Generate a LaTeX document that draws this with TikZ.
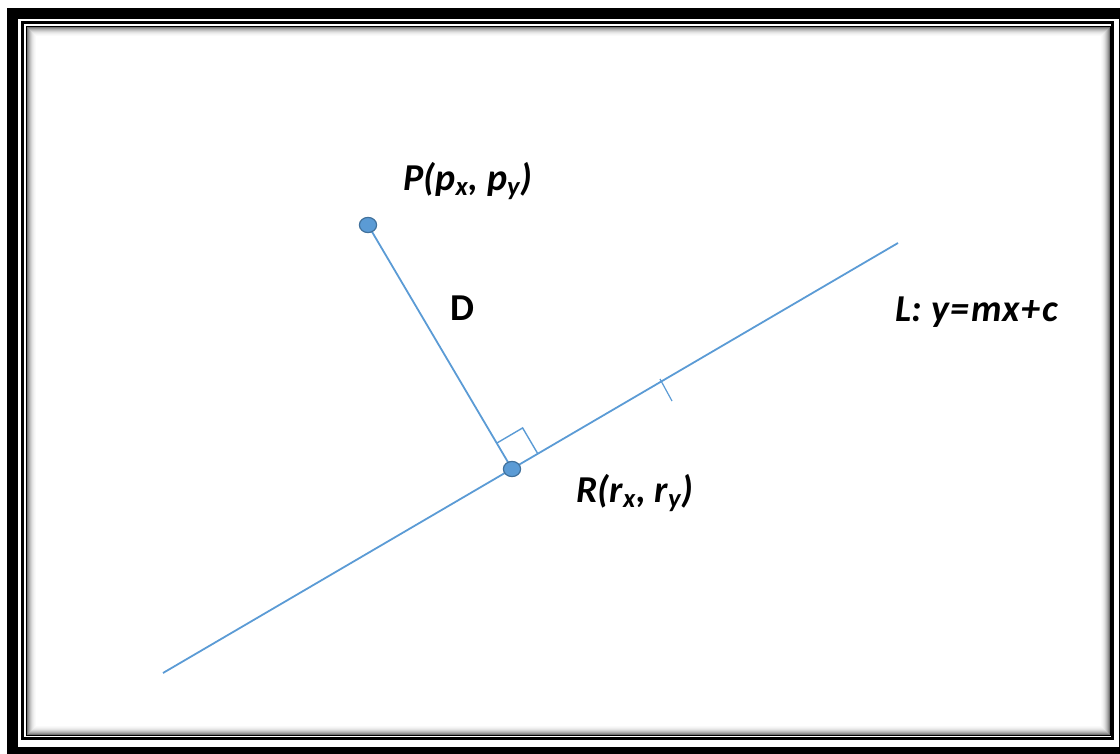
\documentclass[tikz,border=0pt]{standalone}
\usepackage{fontspec}
\setmainfont{Carlito}
\usetikzlibrary{positioning,calc,shapes.geometric}
\definecolor{lineblue}{RGB}{91,155,213}
\definecolor{dotedge}{RGB}{65,113,156}
\begin{document}
\begin{tikzpicture}[x=0.5pt,y=-0.5pt,every node/.style={inner sep=1pt,font=\fontsize{19}{22}\selectfont\bfseries\itshape}]
\tikzstyle{seg}=[draw=lineblue,line width=0.9pt]
\tikzstyle{dot}=[draw=dotedge,fill=lineblue,line width=0.6pt,ellipse,minimum width=8.6pt,minimum height=7.6pt,inner sep=0pt]
\useasboundingbox (0,0) rectangle (1120,754);
\clip (0,0) rectangle (1120,754);
% frame
\draw[line width=5.5pt] (12.5,13.5) rectangle (1124,752);
\draw[line width=1.6pt] (22.5,22.5) rectangle (1112.5,738.5);
\draw[line width=0.6pt] (26.5,26.5) rectangle (1110,735);
\foreach \i/\g in {1/55,2/42,3/32,4/24,5/17,6/11,7/7,8/4,9/2}
  \draw[black!\g,line width=0.5pt] (26.5+\i,26.5+\i) rectangle (1110-\i,735-\i);

\coordinate (P) at (368,225);
\coordinate (R) at (512,469);
\coordinate (l1) at (163,673);
\coordinate (l2) at (898,243);
\draw[seg] (l1) -- (l2);
\draw[seg] (P) -- (R);
\draw[seg,line width=0.7pt] ($(R)!0.106!(P)$) -- ($(R)!0.106!(P)+(25.9,-15.2)$) -- ($(R)!0.067!(l2)$);
\draw[seg,line width=0.6pt] (660,379) -- (672,401);

\node[dot] (pdot) at (P) {};
\node[dot] (rdot) at (R) {};

\node (plabel) at (468,181) {P(p\textsubscript{x}, p\textsubscript{y})};
\node[font=\fontsize{19}{22}\selectfont\bfseries] (dlabel) at (462,308) {D};
\node (rlabel) at (635,493) {R(r\textsubscript{x}, r\textsubscript{y})};
\node (llabel) at (977,312) {L: y\kern1pt=\kern1ptmx\kern1pt+\kern1ptc};
\end{tikzpicture}
\end{document}
